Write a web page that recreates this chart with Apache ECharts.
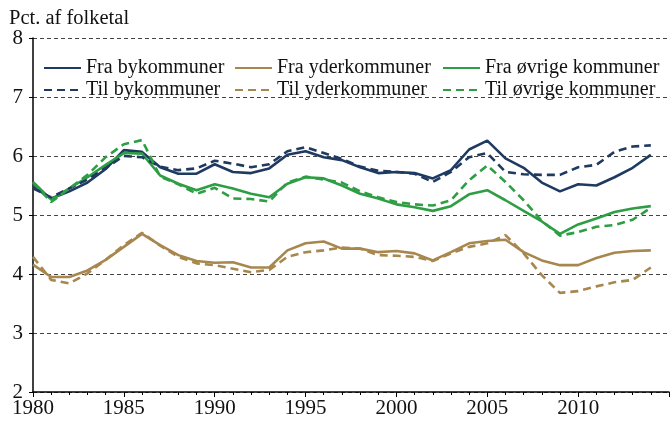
<!DOCTYPE html>
<html>
<head>
<meta charset="utf-8">
<script src="https://cdn.jsdelivr.net/npm/echarts@6/dist/echarts.min.js"></script>
<style>
  html, body { margin: 0; padding: 0; background: #fff; }
  #chart { width: 670px; height: 422px; }
</style>
</head>
<body>
<div id="chart"></div>
<script>
// årstal 1980-2014
const years = []
for (let y = 1980; y <= 2014; y++) years.push(y)

const fraBy = [5.48, 5.28, 5.40, 5.55, 5.78, 6.10, 6.07, 5.81, 5.70, 5.70, 5.86, 5.73, 5.71, 5.79,
  6.02, 6.08, 5.98, 5.93, 5.81, 5.71, 5.73, 5.71, 5.62, 5.76, 6.11, 6.26, 5.96, 5.80, 5.55, 5.40,
  5.52, 5.50, 5.64, 5.80, 6.02]
const tilBy = [5.45, 5.30, 5.45, 5.60, 5.80, 6.00, 5.98, 5.82, 5.76, 5.79, 5.92, 5.87, 5.81, 5.86,
  6.08, 6.15, 6.05, 5.95, 5.82, 5.75, 5.73, 5.70, 5.56, 5.73, 5.98, 6.05, 5.73, 5.69, 5.68, 5.68,
  5.81, 5.85, 6.07, 6.16, 6.18]
const fraYder = [4.16, 3.95, 3.95, 4.06, 4.24, 4.46, 4.68, 4.49, 4.32, 4.22, 4.19, 4.20, 4.11, 4.11,
  4.40, 4.52, 4.55, 4.43, 4.43, 4.37, 4.39, 4.35, 4.23, 4.37, 4.52, 4.56, 4.58, 4.37, 4.23, 4.15,
  4.15, 4.27, 4.36, 4.39, 4.40]
const tilYder = [4.29, 3.90, 3.84, 4.01, 4.24, 4.49, 4.70, 4.48, 4.29, 4.18, 4.15, 4.09, 4.03, 4.07,
  4.29, 4.37, 4.40, 4.45, 4.43, 4.32, 4.31, 4.29, 4.22, 4.35, 4.46, 4.52, 4.66, 4.35, 3.98, 3.68,
  3.71, 3.79, 3.86, 3.90, 4.11]
const fraOevrige = [5.56, 5.26, 5.45, 5.64, 5.85, 6.05, 6.04, 5.67, 5.53, 5.42, 5.52, 5.45, 5.36, 5.30,
  5.53, 5.64, 5.62, 5.50, 5.36, 5.28, 5.18, 5.13, 5.07, 5.15, 5.35, 5.42, 5.25, 5.07, 4.89, 4.68,
  4.84, 4.94, 5.05, 5.11, 5.15]
const tilOevrige = [5.55, 5.22, 5.45, 5.68, 5.98, 6.20, 6.27, 5.65, 5.52, 5.36, 5.46, 5.28, 5.27, 5.23,
  5.55, 5.65, 5.60, 5.55, 5.40, 5.30, 5.22, 5.18, 5.16, 5.25, 5.59, 5.84, 5.56, 5.25, 4.90, 4.65,
  4.71, 4.80, 4.83, 4.92, 5.12]

const navy = '#1f3a60'
const gold = '#a8874f'
const green = '#2e9e45'
const font = '"Liberation Serif", "Times New Roman", serif'

const pairs = (arr) => years.map((y, i) => [y, arr[i]])

const mkSeries = (name, arr, color, dashed) => ({
  name: name,
  type: 'line',
  symbol: 'none',
  data: pairs(arr),
  lineStyle: {
    color: color,
    width: 2.6,
    type: dashed ? [8, 5] : 'solid'
  },
  itemStyle: { color: color },
  z: dashed ? 3 : 2
})

const legendBase = {
  orient: 'vertical',
  top: 57,
  itemWidth: 37,
  itemHeight: 14,
  itemGap: 0,
  padding: 0,
  itemStyle: { opacity: 0 },
  textStyle: { fontFamily: font, fontSize: 20, lineHeight: 22, color: '#111', padding: [0, 0, 0, 0] }
}

const myChart = echarts.init(document.getElementById('chart'))
const option = {
  animation: false,
  title: {
    text: 'Pct. af folketal',
    left: 4,
    top: 3,
    textStyle: { fontFamily: font, fontSize: 20.5, fontWeight: 'normal', color: '#111' }
  },
  legend: [
    Object.assign({}, legendBase, { left: 43, data: ['Fra bykommuner', 'Til bykommuner'] }),
    Object.assign({}, legendBase, { left: 234, data: ['Fra yderkommuner', 'Til yderkommuner'] }),
    Object.assign({}, legendBase, { left: 442, data: ['Fra øvrige kommuner', 'Til øvrige kommuner'] })
  ],
  grid: { left: 33, right: 1, top: 38, bottom: 30 },
  xAxis: {
    type: 'value',
    min: 1980,
    max: 2015,
    interval: 5,
    axisLine: { lineStyle: { color: '#000', width: 1.5 } },
    axisTick: { length: 5, lineStyle: { color: '#000' } },
    minorTick: { show: true, splitNumber: 5, length: 3, lineStyle: { color: '#000' } },
    splitLine: { show: false },
    axisLabel: {
      fontFamily: font, fontSize: 21, color: '#111', margin: 6,
      showMaxLabel: false,
      formatter: (v) => (v >= 2015 ? '' : String(v))
    }
  },
  yAxis: {
    type: 'value',
    min: 2,
    max: 8,
    interval: 1,
    axisLine: { show: true, lineStyle: { color: '#000', width: 1.5 } },
    axisTick: { show: true, length: 4, lineStyle: { color: '#000' } },
    splitLine: { lineStyle: { color: '#444', type: [4, 3], width: 1 } },
    axisLabel: { fontFamily: font, fontSize: 21, color: '#111', margin: 10 }
  },
  series: [
    mkSeries('Fra bykommuner', fraBy, navy, false),
    mkSeries('Til bykommuner', tilBy, navy, true),
    mkSeries('Fra yderkommuner', fraYder, gold, false),
    mkSeries('Til yderkommuner', tilYder, gold, true),
    mkSeries('Fra øvrige kommuner', fraOevrige, green, false),
    mkSeries('Til øvrige kommuner', tilOevrige, green, true)
  ]
}
myChart.setOption(option)
window.onresize = function () {
  if (myChart) myChart.resize()
}
</script>
</body>
</html>
